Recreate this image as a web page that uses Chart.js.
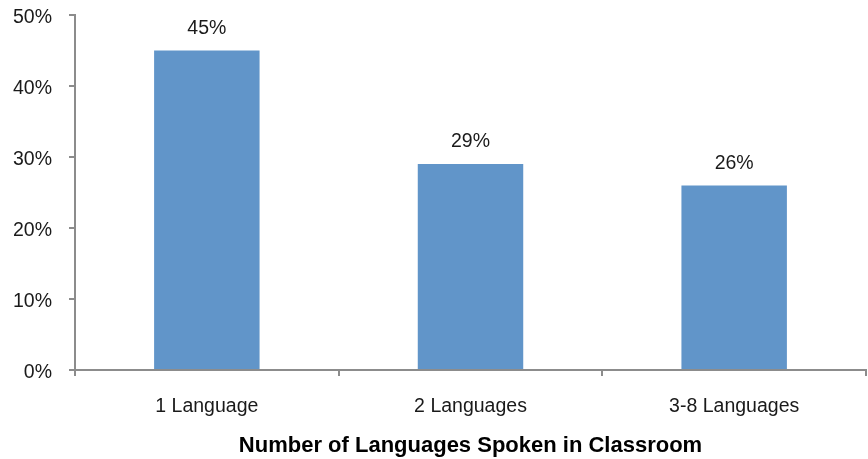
<!DOCTYPE html>
<html>
<head>
<meta charset="utf-8">
<script src="https://cdn.jsdelivr.net/npm/chart.js@4"></script>
<style>
  html, body { margin: 0; padding: 0; background: #fff; }
  #wrap { width: 868px; height: 459px; }
</style>
</head>
<body>
<div id="wrap"><canvas id="myChart" width="868" height="459"></canvas></div>
<script>
const categories = ['1 Language', '2 Languages', '3-8 Languages'];
const shares = [45, 29, 26];
const yTicks = [0, 10, 20, 30, 40, 50];
const xTitle = 'Number of Languages Spoken in Classroom';

const fontFamily = '"Liberation Sans", Arial, sans-serif';
const labelFont = { family: fontFamily, size: 19.5 };

// values above bars
const barLabels = {
    id: 'barLabels',
    afterDatasetsDraw(chart) {
        const c = chart.ctx;
        c.save();
        c.font = '19.5px ' + fontFamily;
        c.fillStyle = '#1a1a1a';
        c.textAlign = 'center';
        c.textBaseline = 'middle';
        chart.getDatasetMeta(0).data.forEach((bar, i) => {
            c.fillText(shares[i] + '%', bar.x, bar.y - 22);
        });
        c.restore();
    }
};

const ctx = document.getElementById('myChart');

new Chart(ctx, {
    type: 'bar',
    data: {
        labels: categories,
        datasets: [{
            data: shares,
            backgroundColor: '#6195c9',
            categoryPercentage: 1,
            barPercentage: 0.4
        }]
    },
    options: {
        responsive: false,
        animation: false,
        layout: { padding: { top: 15, right: 2, left: 0, bottom: 0 } },
        plugins: { legend: { display: false }, tooltip: { enabled: false } },
        scales: {
            x: {
                offset: true,
                border: { color: '#8c8c8c', width: 2 },
                grid: { offset: true, drawOnChartArea: false, color: '#8c8c8c', lineWidth: 2, tickLength: 6 },
                ticks: { color: '#1a1a1a', font: labelFont, padding: 19 },
                title: {
                    display: true,
                    text: xTitle,
                    color: '#000',
                    font: { family: fontFamily, size: 22, weight: 'bold' },
                    padding: { top: 6, bottom: 0 }
                },
                afterFit(scale) { scale.height = 89; }
            },
            y: {
                min: 0,
                max: 50,
                border: { color: '#8c8c8c', width: 2 },
                grid: { drawOnChartArea: false, color: '#8c8c8c', lineWidth: 2, tickLength: 6 },
                afterBuildTicks(scale) { scale.ticks = yTicks.map(v => ({ value: v })); },
                ticks: {
                    color: '#1a1a1a',
                    font: labelFont,
                    padding: 17,
                    labelOffset: 3,
                    callback: v => v + '%'
                },
                afterFit(scale) {
                    scale.width = 75;
                    scale.paddingTop = 0;
                    scale.paddingBottom = 0;
                }
            }
        }
    },
    plugins: [barLabels]
});
</script>
</body>
</html>
